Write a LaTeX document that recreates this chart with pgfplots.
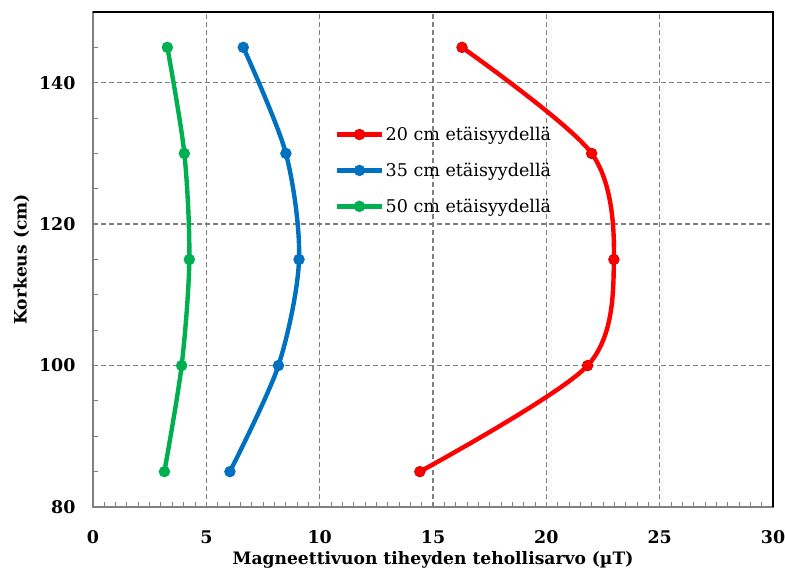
\documentclass[border=0pt]{standalone}
\usepackage{fontspec}
\setmainfont{DejaVu Serif}
\usepackage{pgfplots}
\pgfplotsset{compat=1.18}
\definecolor{cRed}{RGB}{255,0,0}
\definecolor{cBlue}{RGB}{0,112,192}
\definecolor{cGreen}{RGB}{0,176,80}
\definecolor{gridgray}{RGB}{128,128,128}
\begin{document}
\begin{tikzpicture}
\begin{axis}[
  scale only axis, width=680bp, height=495bp,
  xmin=0, xmax=30, ymin=80, ymax=150,
  xtick={0,5,...,30}, ytick={80,100,120,140},
  minor xtick={0.5,1,...,29.5},
  minor ytick={85,90,...,145},
  xtick pos=lower, ytick pos=left,
  tick align=inside,
  major tick length=0pt, minor tick length=5bp,
  grid=major,
  major grid style={gridgray, line width=1.3bp, dash pattern=on 5bp off 3bp},
  axis line style={gridgray, line width=1.6bp},
  every tick/.style={gridgray, line width=1bp},
  /pgf/number format/assume math mode=true,
  ticklabel style={font=\fontsize{17.5}{21}\selectfont\bfseries},
  xticklabel style={yshift=-20bp},
  yticklabel style={xshift=-14bp},
  xlabel={Magneettivuon tiheyden tehollisarvo (µT)},
  ylabel={Korkeus (cm)},
  label style={font=\fontsize{17.2}{21}\selectfont\bfseries},
  xlabel style={yshift=-1bp},
  ylabel style={yshift=3bp},
  legend style={at={(rel axis cs:0.356,0.772)}, anchor=north west,
    draw=none, fill=none, inner sep=0pt, row sep=17bp,
    font=\fontsize{17.6}{21}\selectfont},
  legend cell align=left,
  legend image code/.code={%
    \draw[mark repeat=2,mark phase=2] plot coordinates {(0bp,0bp) (22bp,0bp) (44bp,0bp)};},
  clip=false,
]
\addplot[cRed, line width=4.4bp, smooth, mark=*, mark size=5.4bp,
  mark options={fill=cRed, draw=cRed!80!black, line width=0.6bp}]
  coordinates {(14.42,85) (21.82,100) (22.98,115) (22.0,130) (16.28,145)};
\addlegendentry{20 cm etäisyydellä}
\addplot[cBlue, line width=4.4bp, smooth, mark=*, mark size=5.4bp,
  mark options={fill=cBlue, draw=cBlue, line width=0.6bp}]
  coordinates {(6.04,85) (8.18,100) (9.09,115) (8.51,130) (6.63,145)};
\addlegendentry{35 cm etäisyydellä}
\addplot[cGreen, line width=4.4bp, smooth, mark=*, mark size=5.4bp,
  mark options={fill=cGreen, draw=cGreen, line width=0.6bp}]
  coordinates {(3.15,85) (3.91,100) (4.25,115) (4.03,130) (3.28,145)};
\addlegendentry{50 cm etäisyydellä}
\draw[black, line width=1.8bp] (rel axis cs:0,1) -- (rel axis cs:1,1) -- (rel axis cs:1,0);
\end{axis}
\pgfresetboundingbox
\path ([xshift=-93bp,yshift=-64bp]current axis.south west)
  rectangle ([xshift=12bp,yshift=12bp]current axis.north east);
\end{tikzpicture}
\end{document}
